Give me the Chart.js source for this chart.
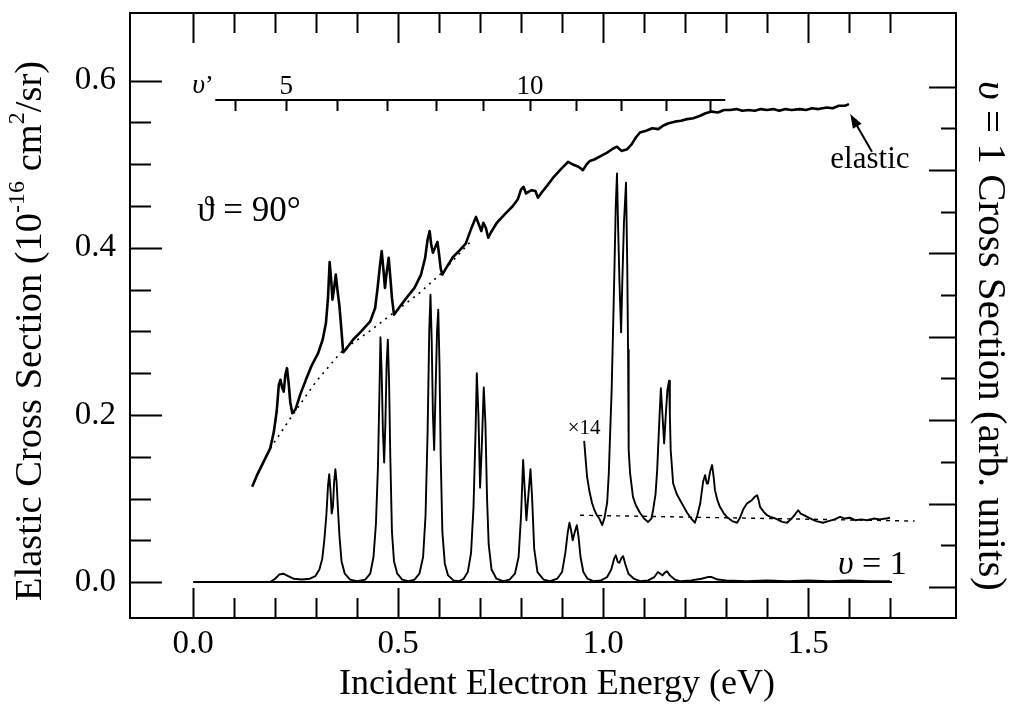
<!DOCTYPE html>
<html lang="en">
<head>
<meta charset="UTF-8">
<title>Elastic and v = 1 cross sections</title>
<script src="https://cdn.jsdelivr.net/npm/chart.js@4.4.0/dist/chart.umd.min.js"></script>
<style>
  html, body { margin: 0; padding: 0; background: #fff; }
  #wrap { width: 1013px; height: 707px; }
</style>
</head>
<body>
<div id="wrap"><canvas id="chart" width="1013" height="707"></canvas></div>
<script>
// ---- data (energy in eV, cross section in 1e-16 cm2/sr) ----
const elasticE = [0.144,0.155,0.170,0.188,0.197,0.204,0.209,0.213,0.217,0.221,0.225,0.229,0.233,0.237,0.242,0.250,0.261,0.275,0.290,0.305,
  0.316,0.324,0.329,0.333,0.337,0.340,0.344,0.348,0.352,0.357,0.362,0.366,0.375,0.390,0.410,0.432,0.444,0.450,0.456,0.460,
  0.464,0.468,0.472,0.477,0.481,0.485,0.490,0.505,0.522,0.540,0.556,0.566,0.572,0.577,0.581,0.585,0.590,0.596,0.600,0.604,
  0.608,0.620,0.634,0.650,0.665,0.680,0.690,0.697,0.703,0.708,0.714,0.720,0.726,0.741,0.760,0.780,0.792,0.800,0.806,0.812,
  0.818,0.826,0.835,0.841,0.850,0.863,0.880,0.895,0.905,0.915,0.925,0.940,0.951,0.960,0.968,0.980,0.995,1.010,1.022,1.034,
  1.045,1.059,1.070,1.080,1.090,1.105,1.120,1.135,1.146,1.160,1.175,1.190,1.205,1.220,1.237,1.250,1.265,1.280,1.295,1.310,
  1.325,1.340,1.355,1.370,1.385,1.400,1.415,1.430,1.445,1.460,1.480,1.495,1.510,1.525,1.546,1.560,1.575,1.590,1.600];
const elasticV = [0.114,0.127,0.142,0.160,0.180,0.205,0.236,0.242,0.233,0.228,0.248,0.256,0.238,0.215,0.202,0.207,0.224,0.242,0.260,0.274,
  0.290,0.310,0.340,0.383,0.360,0.338,0.352,0.368,0.350,0.330,0.300,0.275,0.280,0.290,0.300,0.312,0.328,0.352,0.380,0.396,
  0.375,0.352,0.370,0.388,0.365,0.340,0.320,0.330,0.341,0.352,0.368,0.388,0.410,0.420,0.403,0.394,0.400,0.407,0.392,0.375,
  0.368,0.378,0.389,0.397,0.405,0.425,0.437,0.428,0.420,0.430,0.424,0.412,0.418,0.430,0.440,0.450,0.458,0.470,0.473,0.465,
  0.467,0.469,0.468,0.460,0.466,0.474,0.485,0.493,0.498,0.503,0.500,0.497,0.493,0.500,0.504,0.506,0.510,0.514,0.518,0.521,
  0.516,0.518,0.524,0.532,0.538,0.540,0.543,0.542,0.546,0.549,0.551,0.552,0.554,0.555,0.558,0.561,0.563,0.562,0.565,0.565,
  0.566,0.564,0.565,0.564,0.566,0.565,0.566,0.564,0.566,0.565,0.566,0.565,0.567,0.566,0.568,0.567,0.570,0.570,0.572];

// non-resonant background under the elastic curve (dotted)
const elasticBgE = [0.188,0.240,0.300,0.366,0.430,0.488,0.550,0.602,0.676];
const elasticBgV = [0.160,0.198,0.240,0.278,0.300,0.322,0.345,0.368,0.407];

// v = 1 vibrational excitation
const v1E = [0.188,0.200,0.210,0.220,0.232,0.245,0.265,0.285,0.298,0.308,0.315,0.320,0.325,0.329,0.332,0.335,0.338,0.341,0.344,0.347,
  0.350,0.353,0.357,0.362,0.370,0.383,0.400,0.420,0.432,0.440,0.446,0.451,0.455,0.457,0.460,0.463,0.466,0.469,0.472,0.475,
  0.478,0.481,0.485,0.490,0.498,0.510,0.525,0.540,0.552,0.561,0.567,0.572,0.576,0.579,0.582,0.585,0.588,0.591,0.595,0.598,
  0.601,0.604,0.608,0.614,0.622,0.635,0.648,0.660,0.670,0.678,0.684,0.689,0.692,0.696,0.700,0.704,0.709,0.713,0.717,0.721,
  0.728,0.740,0.756,0.772,0.785,0.794,0.800,0.805,0.809,0.813,0.818,0.823,0.827,0.832,0.840,0.855,0.871,0.888,0.900,0.908,
  0.914,0.918,0.922,0.926,0.931,0.936,0.940,0.945,0.952,0.962,0.976,0.995,1.010,1.020,1.027,1.031,1.036,1.040,1.045,1.049,
  1.054,1.062,1.075,1.090,1.110,1.125,1.134,1.140,1.145,1.150,1.156,1.163,1.175,1.188,1.215,1.240,1.255,1.265,1.280,1.300,
  1.350,1.400,1.450,1.500,1.550,1.600,1.650,1.700];
const v1V = [0.000,0.004,0.009,0.010,0.007,0.004,0.003,0.004,0.007,0.015,0.028,0.050,0.080,0.115,0.129,0.110,0.082,0.090,0.120,0.135,
  0.120,0.090,0.055,0.025,0.010,0.003,0.001,0.003,0.010,0.030,0.070,0.140,0.240,0.293,0.250,0.180,0.143,0.190,0.260,0.290,
  0.240,0.150,0.060,0.025,0.010,0.003,0.001,0.003,0.010,0.030,0.080,0.180,0.300,0.344,0.290,0.200,0.158,0.220,0.300,0.326,
  0.260,0.150,0.060,0.022,0.008,0.002,0.001,0.004,0.012,0.035,0.090,0.180,0.250,0.200,0.113,0.160,0.233,0.190,0.100,0.045,
  0.015,0.004,0.001,0.003,0.010,0.030,0.080,0.146,0.110,0.074,0.105,0.135,0.100,0.040,0.012,0.003,0.001,0.004,0.012,0.035,
  0.060,0.071,0.062,0.050,0.060,0.068,0.055,0.030,0.012,0.004,0.001,0.002,0.006,0.015,0.028,0.032,0.024,0.023,0.029,0.031,
  0.022,0.010,0.004,0.001,0.002,0.006,0.012,0.010,0.008,0.011,0.013,0.008,0.003,0.001,0.002,0.004,0.006,0.006,0.003,0.002,
  0.001,0.002,0.001,0.002,0.001,0.002,0.001,0.001];

// v = 1 zero line
const zeroE = [0.0, 1.705];
const zeroV = [0.0, 0.0];

// v = 1 curve magnified x14, with its dashed baseline
const x14E = [0.954,0.957,0.961,0.967,0.973,0.979,0.985,0.991,0.998,1.004,1.010,1.014,1.017,1.021,1.024,1.028,1.031,1.034,1.037,1.040,
  1.044,1.047,1.051,1.056,1.059,1.061,1.062,1.063,1.066,1.073,1.080,1.090,1.100,1.110,1.118,1.122,1.128,1.132,1.137,1.141,
  1.145,1.149,1.153,1.157,1.161,1.163,1.165,1.171,1.180,1.188,1.197,1.205,1.215,1.224,1.230,1.237,1.244,1.249,1.253,1.256,
  1.261,1.266,1.270,1.273,1.279,1.285,1.295,1.302,1.315,1.327,1.334,1.342,1.351,1.357,1.363,1.370,1.376,1.380,1.383,1.392,
  1.400,1.408,1.415,1.425,1.437,1.449,1.460,1.470,1.476,1.482,1.490,1.498,1.510,1.520,1.537,1.550,1.565,1.578,1.590,1.602,
  1.615,1.630,1.644,1.660,1.675,1.690,1.700];
const x14V = [0.169,0.150,0.126,0.108,0.095,0.086,0.080,0.076,0.068,0.078,0.095,0.130,0.174,0.230,0.293,0.380,0.450,0.489,0.420,0.360,
  0.299,0.360,0.430,0.478,0.380,0.278,0.200,0.158,0.130,0.102,0.092,0.083,0.076,0.072,0.076,0.086,0.105,0.134,0.190,0.232,
  0.200,0.166,0.200,0.230,0.241,0.200,0.158,0.118,0.105,0.098,0.090,0.083,0.076,0.071,0.080,0.094,0.120,0.128,0.118,0.118,
  0.132,0.140,0.125,0.110,0.098,0.090,0.082,0.078,0.073,0.071,0.077,0.087,0.094,0.096,0.098,0.102,0.104,0.097,0.090,0.084,
  0.080,0.078,0.077,0.075,0.072,0.071,0.076,0.082,0.086,0.082,0.080,0.078,0.075,0.073,0.071,0.073,0.075,0.078,0.076,0.077,
  0.074,0.075,0.074,0.076,0.075,0.076,0.077];
const x14BaseE = [0.944, 1.760];
const x14BaseV = [0.080, 0.073];

// v' vibrational level scale of the resonance
const vPrimeE = [0.102,0.227,0.351,0.473,0.593,0.707,0.822,0.934,1.044,1.154,1.261];
const vPrimeLevels = [4,5,6,7,8,9,10,11,12,13,14];
const vPrimeLabelled = [5, 10];
const vPrimeLineE = [0.054, 1.298];
const vPrimeLineV = [0.577, 0.577];

// axis ticks
const xTickValues = [0.0,0.1,0.2,0.3,0.4,0.5,0.6,0.7,0.8,0.9,1.0,1.1,1.2,1.3,1.4,1.5,1.6,1.7];
const xLabelValues = [0.0, 0.5, 1.0, 1.5];
const yTickValues = [0.0,0.05,0.1,0.15,0.2,0.25,0.3,0.35,0.4,0.45,0.5,0.55,0.6];
const yLabelValues = [0.0, 0.2, 0.4, 0.6];
const yRightTickValues = [0.0,0.05,0.1,0.15,0.2,0.25,0.3,0.35,0.4,0.45,0.5,0.55,0.6];

const SERIF = '"Liberation Serif", "Times New Roman", serif';
const pts = (xs, ys) => xs.map((x, i) => ({x: x, y: ys[i]}));
const nearMultiple = (v, step) => Math.abs(v / step - Math.round(v / step)) < 1e-6;

function line(data, width, dash) {
  return {
    data: data, borderColor: '#000', borderWidth: width, borderDash: dash || [],
    pointRadius: 0, fill: false, tension: 0, borderJoinStyle: 'round'
  };
}

// draw a row of text pieces (some raised / italic) around 0,0 of the current transform
function drawRuns(ctx, runs, align) {
  let total = 0;
  runs.forEach(r => { ctx.font = r.font; r.w = ctx.measureText(r.t).width; total += r.w; });
  let cx = align === 'left' ? 0 : -total / 2;
  ctx.textBaseline = 'middle';
  ctx.textAlign = 'left';
  runs.forEach(r => { ctx.font = r.font; ctx.fillText(r.t, cx, r.dy || 0); cx += r.w; });
}

const inkPlugin = {
  id: 'ink',
  afterDraw(chart) {
    const ctx = chart.ctx, a = chart.chartArea;
    const x = chart.scales.x, y = chart.scales.y, yR = chart.scales.yR;
    ctx.save();
    ctx.strokeStyle = '#000';
    ctx.fillStyle = '#000';
    ctx.lineWidth = 2;

    // inward ticks on all four sides
    ctx.beginPath();
    xTickValues.forEach(v => {
      const px = Math.round(x.getPixelForValue(v)) + 0.5;
      const len = nearMultiple(v, 0.5) ? 30 : 20;
      ctx.moveTo(px, a.bottom); ctx.lineTo(px, a.bottom - len);
      ctx.moveTo(px, a.top); ctx.lineTo(px, a.top + len);
    });
    yTickValues.forEach(v => {
      const py = Math.round(y.getPixelForValue(v)) + 0.5;
      ctx.moveTo(a.left, py); ctx.lineTo(a.left + (nearMultiple(v, 0.2) ? 32 : 21), py);
    });
    yRightTickValues.forEach(v => {
      const py = Math.round(yR.getPixelForValue(v)) + 0.5;
      ctx.moveTo(a.right, py); ctx.lineTo(a.right - (nearMultiple(v, 0.1) ? 27 : 15), py);
    });
    ctx.stroke();

    // v' ticks hanging under the level line
    ctx.beginPath();
    vPrimeE.forEach(e => {
      const px = Math.round(x.getPixelForValue(e)) + 0.5;
      const py = y.getPixelForValue(vPrimeLineV[0]);
      ctx.moveTo(px, py); ctx.lineTo(px, py + 11);
    });
    ctx.stroke();

    // v' labels
    const upright = (s) => s + 'px ' + SERIF;
    const italic = (s) => 'italic ' + s + 'px ' + SERIF;
    ctx.save();
    ctx.translate(x.getPixelForValue(0.024), y.getPixelForValue(0.594));
    drawRuns(ctx, [{t: 'υ', font: italic(28)}, {t: '\u2019', font: upright(26)}], 'center');
    ctx.restore();
    vPrimeLabelled.forEach(n => {
      const e = vPrimeE[vPrimeLevels.indexOf(n)];
      ctx.save();
      ctx.translate(x.getPixelForValue(e), y.getPixelForValue(0.592));
      drawRuns(ctx, [{t: String(n), font: upright(27)}], 'center');
      ctx.restore();
    });

    // annotations
    ctx.save();
    ctx.translate(x.getPixelForValue(0.01), y.getPixelForValue(0.443));
    drawRuns(ctx, [{t: 'ϑ = 90°', font: upright(35)}], 'left');
    ctx.restore();

    ctx.save();
    ctx.translate(x.getPixelForValue(1.651), y.getPixelForValue(0.505));
    drawRuns(ctx, [{t: 'elastic', font: upright(31)}], 'center');
    ctx.restore();

    ctx.save();
    ctx.translate(x.getPixelForValue(0.954), y.getPixelForValue(0.184));
    drawRuns(ctx, [{t: '×14', font: upright(21)}], 'center');
    ctx.restore();

    ctx.save();
    ctx.translate(x.getPixelForValue(1.573), y.getPixelForValue(0.020));
    drawRuns(ctx, [{t: 'υ', font: italic(34)}, {t: ' = 1', font: upright(34)}], 'left');
    ctx.restore();

    // arrow pointing at the end of the elastic curve
    const tx = x.getPixelForValue(1.603), ty = y.getPixelForValue(0.560);
    const sx = x.getPixelForValue(1.656), sy = y.getPixelForValue(0.515);
    const ang = Math.atan2(ty - sy, tx - sx);
    ctx.lineWidth = 2;
    ctx.beginPath(); ctx.moveTo(sx, sy); ctx.lineTo(tx - 8 * Math.cos(ang), ty - 8 * Math.sin(ang)); ctx.stroke();
    ctx.beginPath();
    ctx.moveTo(tx, ty);
    ctx.lineTo(tx - 14 * Math.cos(ang) + 5 * Math.sin(ang), ty - 14 * Math.sin(ang) - 5 * Math.cos(ang));
    ctx.lineTo(tx - 14 * Math.cos(ang) - 5 * Math.sin(ang), ty - 14 * Math.sin(ang) + 5 * Math.cos(ang));
    ctx.closePath(); ctx.fill();

    // axis titles
    ctx.save();
    ctx.translate(557, 685);
    drawRuns(ctx, [{t: 'Incident Electron Energy (eV)', font: upright(36)}], 'center');
    ctx.restore();

    ctx.save();
    ctx.translate(31, 331);
    ctx.rotate(-Math.PI / 2);
    drawRuns(ctx, [
      {t: 'Elastic Cross Section (10', font: upright(38.5)},
      {t: '-16', font: upright(24), dy: -13},
      {t: ' cm', font: upright(38.5)},
      {t: '2', font: upright(24), dy: -13},
      {t: '/sr)', font: upright(38.5)}
    ], 'center');
    ctx.restore();

    ctx.save();
    ctx.translate(990, 336);
    ctx.rotate(Math.PI / 2);
    drawRuns(ctx, [{t: 'υ', font: italic(41)}, {t: ' = 1 Cross Section (arb. units)', font: upright(41)}], 'center');
    ctx.restore();

    ctx.restore();
  }
};

const border = {display: true, color: '#000', width: 2};
const noPad = s => { s.paddingTop = 0; s.paddingBottom = 0; s.paddingLeft = 0; s.paddingRight = 0; };

new Chart(document.getElementById('chart'), {
  type: 'line',
  data: {
    datasets: [
      line(pts(elasticE, elasticV), 2.6),
      line(pts(elasticBgE, elasticBgV), 1.6, [2, 5]),
      line(pts(v1E, v1V), 1.9),
      line(pts(zeroE, zeroV), 2),
      line(pts(x14E, x14V), 1.9),
      line(pts(x14BaseE, x14BaseV), 1.4, [4, 5]),
      line(pts(vPrimeLineE, vPrimeLineV), 2)
    ]
  },
  options: {
    responsive: false,
    animation: false,
    layout: {padding: 0},
    plugins: {legend: {display: false}, tooltip: {enabled: false}},
    scales: {
      x: {
        type: 'linear', position: 'bottom', min: -0.154, max: 1.861,
        afterFit: s => { s.height = 89; noPad(s); },
        afterBuildTicks: s => { s.ticks = xLabelValues.map(v => ({value: v})); },
        ticks: {color: '#000', font: {family: SERIF, size: 33}, padding: 7, maxRotation: 0, autoSkip: false,
                callback: v => Number(v).toFixed(1)},
        grid: {display: false, drawTicks: false},
        border: border
      },
      xTop: {
        type: 'linear', position: 'top', min: -0.154, max: 1.861,
        afterFit: s => { s.height = 13; noPad(s); },
        ticks: {display: false},
        grid: {display: false, drawTicks: false},
        border: border
      },
      y: {
        type: 'linear', position: 'left', min: -0.043, max: 0.681,
        afterFit: s => { s.width = 130; noPad(s); },
        afterBuildTicks: s => { s.ticks = yLabelValues.map(v => ({value: v})); },
        ticks: {color: '#000', font: {family: SERIF, size: 33}, padding: 14,
                callback: v => Number(v).toFixed(1)},
        grid: {display: false, drawTicks: false},
        border: border
      },
      yR: {
        type: 'linear', position: 'right', min: -0.0372, max: 0.6882,
        afterFit: s => { s.width = 57; noPad(s); },
        ticks: {display: false},
        grid: {display: false, drawTicks: false},
        border: border
      }
    }
  },
  plugins: [inkPlugin]
});
</script>
</body>
</html>
